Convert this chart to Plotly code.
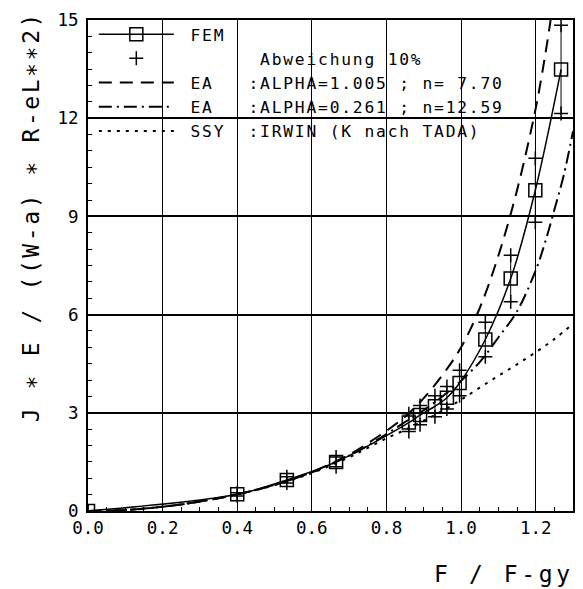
import numpy as np
import plotly.graph_objects as go

# ---------------- data ----------------
fem_x = [0.0, 0.40, 0.533, 0.665, 0.86, 0.89, 0.93, 0.962, 0.996, 1.065, 1.133, 1.199, 1.268]
fem_y = [0.0, 0.51, 0.95, 1.50, 2.70, 2.93, 3.20, 3.46, 3.91, 5.24, 7.10, 9.80, 13.49]
dev_pct = 10  # Abweichung 10%

ea1_x = [0.0, 0.1, 0.2, 0.3, 0.4, 0.5, 0.6, 0.7, 0.75, 0.8, 0.85, 0.9, 0.95, 1.0, 1.05, 1.1, 1.15, 1.2, 1.225, 1.24]
ea1_y = [0.0, 0.03, 0.13, 0.29, 0.51, 0.80, 1.19, 1.72, 2.07, 2.45, 2.88, 3.45, 4.15, 5.0, 6.2, 7.8, 9.8, 12.3, 13.9, 15.0]

ea2_x = [0.0, 0.1, 0.2, 0.3, 0.4, 0.5, 0.6, 0.7, 0.75, 0.8, 0.85, 0.9, 0.95, 1.0, 1.05, 1.1, 1.15, 1.2, 1.225, 1.25, 1.275, 1.3]
ea2_y = [0.0, 0.03, 0.13, 0.29, 0.51, 0.80, 1.18, 1.69, 2.0, 2.35, 2.72, 3.08, 3.50, 3.98, 4.55, 5.3, 6.1, 7.35, 8.2, 9.2, 10.25, 11.6]

ssy_x = [0.0, 0.1, 0.2, 0.3, 0.4, 0.5, 0.6, 0.7, 0.75, 0.8, 0.85, 0.9, 0.95, 1.0, 1.05, 1.1, 1.15, 1.2, 1.25, 1.3]
ssy_y = [0.0, 0.03, 0.13, 0.29, 0.51, 0.79, 1.16, 1.64, 1.93, 2.22, 2.48, 2.76, 3.06, 3.40, 3.77, 4.13, 4.48, 4.85, 5.25, 5.72]

x_tick_vals = [0.0, 0.2, 0.4, 0.6, 0.8, 1.0, 1.2]
x_tick_text = ["0.0", "0.2", "0.4", "0.6", "0.8", "1.0", "1.2"]
y_tick_vals = [0, 3, 6, 9, 12, 15]
y_tick_text = ["0", "3", "6", "9", "12", "15"]

NB = "\u00a0"
label_fem = NB + "FEM"
label_dev = NB * 7 + "Abweichung" + NB + "10%"
label_ea1 = NB + "EA" + NB * 3 + ":" + "ALPHA=1.005" + NB + ";" + NB + "n=" + NB + "7.70"
label_ea2 = NB + "EA" + NB * 3 + ":" + "ALPHA=0.261" + NB + ";" + NB + "n=12.59"
label_ssy = NB + "SSY" + NB * 2 + ":" + "IRWIN" + NB + "(K" + NB + "nach" + NB + "TADA)"

y_title = "J ∗ E / ((W-a) ∗ R-eL∗∗2)"
x_title = "F / F-gy"

FONT = "DejaVu Sans Mono"


def spaced(text, px):
    return "<span style='letter-spacing:%.1fpx'>%s</span>" % (px, text)


fx = np.array(fem_x)
fy = np.array(fem_y)
bounds_x = np.concatenate([fx, fx])
bounds_y = np.concatenate([fy * (1 + dev_pct / 100), fy * (1 - dev_pct / 100)])

fig = go.Figure()

# error bars (no legend entry)
fig.add_trace(go.Scatter(
    x=fem_x, y=fem_y, mode="markers", marker=dict(size=1, color="rgba(0,0,0,0)"),
    error_y=dict(type="percent", value=dev_pct, color="black", thickness=1, width=0),
    showlegend=False, hoverinfo="skip"))

fig.add_trace(go.Scatter(
    x=fem_x, y=fem_y, mode="lines+markers", name=spaced(label_fem, 1.8), line_shape="spline",
    line=dict(color="black", width=1.5),
    marker=dict(symbol="square-open", size=13, color="black", line=dict(width=1.5))))

fig.add_trace(go.Scatter(
    x=bounds_x, y=bounds_y, mode="markers", name=spaced(label_dev, 1.8),
    marker=dict(symbol="cross-thin", size=10, color="black", line=dict(width=1.5, color="black"))))

fig.add_trace(go.Scatter(
    x=ea1_x, y=ea1_y, mode="lines", name=spaced(label_ea1, 1.8), line_shape="spline",
    line=dict(color="black", width=2, dash="13px,8px")))

fig.add_trace(go.Scatter(
    x=ea2_x, y=ea2_y, mode="lines", name=spaced(label_ea2, 1.8), line_shape="spline",
    line=dict(color="black", width=2, dash="13px,5px,2px,5px")))

fig.add_trace(go.Scatter(
    x=ssy_x, y=ssy_y, mode="lines", name=spaced(label_ssy, 1.8), line_shape="spline",
    line=dict(color="black", width=2, dash="3px,6px")))

fig.update_layout(
    width=583, height=589,
    margin=dict(l=88, r=8, t=20, b=78),
    paper_bgcolor="white", plot_bgcolor="white",
    font=dict(family=FONT, color="black", size=16.3),
    showlegend=True,
    legend=dict(x=0.012, y=1.006, xanchor="left", yanchor="top",
                bgcolor="rgba(0,0,0,0)", borderwidth=0, itemwidth=75,
                font=dict(family=FONT, size=16.3, color="black"),
                traceorder="normal", tracegroupgap=0),
    # white mask behind the legend hiding the grid lines (drawn above grid, below traces)
    shapes=[dict(type="rect", xref="paper", yref="paper", x0=0.004, x1=0.878,
                 y0=0.757, y1=0.996, layer="between",
                 fillcolor="white", line=dict(width=0))],
    annotations=[
        dict(text=spaced(y_title, 2.6), textangle=-90, xref="paper", yref="paper",
             x=-0.117, y=0.599, xanchor="center", yanchor="middle", showarrow=False,
             font=dict(family=FONT, size=23, color="black")),
        dict(text=spaced(x_title, 3.6), xref="paper", yref="paper", x=1.007, y=-0.128,
             xanchor="right", yanchor="middle", showarrow=False,
             font=dict(family=FONT, size=23, color="black")),
    ],
)

fig.update_xaxes(
    range=[0, 1.3], showline=True, linecolor="black", linewidth=2, mirror=True,
    tickmode="array", tickvals=x_tick_vals, ticktext=x_tick_text,
    ticks="inside", ticklen=4, tickcolor="black",
    showgrid=True, gridcolor="black", gridwidth=1.2, zeroline=False,
    tickfont=dict(family=FONT, size=17.5, color="black"),
    minor=dict(dtick=0.05, ticks="inside", ticklen=4, tickcolor="black", showgrid=False),
)
fig.update_yaxes(
    range=[0, 15], showline=True, linecolor="black", linewidth=2, mirror=True,
    tickmode="array", tickvals=y_tick_vals, ticktext=y_tick_text,
    ticks="inside", ticklen=4, tickcolor="black",
    showgrid=True, gridcolor="black", gridwidth=2, zeroline=False,
    tickfont=dict(family=FONT, size=17.5, color="black"), ticklabelstandoff=4,
    minor=dict(dtick=0.5, ticks="inside", ticklen=4, tickcolor="black", showgrid=False),
)

fig.write_html("out.html", config={"displayModeBar": False},
               post_script="document.body.style.margin='0px';")
